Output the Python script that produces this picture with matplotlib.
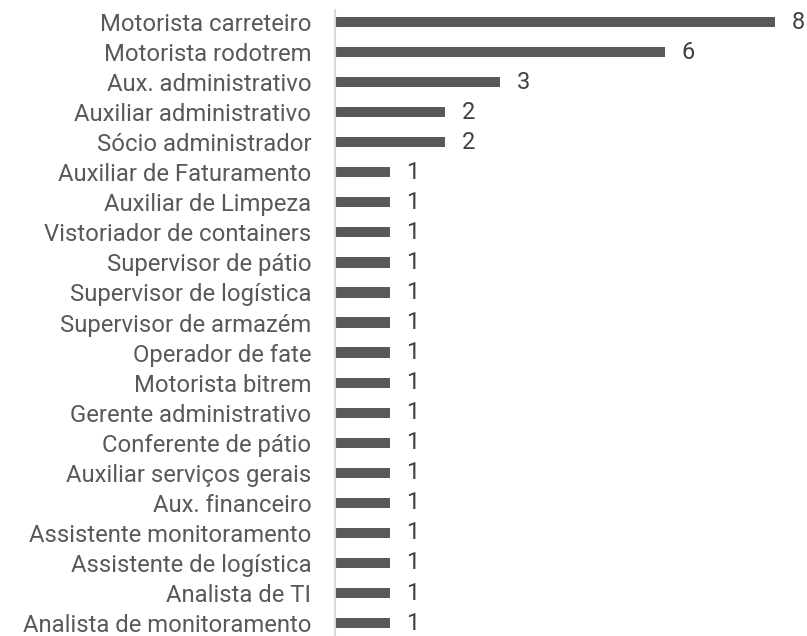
import matplotlib.pyplot as plt

plt.rcParams['font.family'] = ['Roboto', 'DejaVu Sans']

cargos = [
    "Motorista carreteiro", "Motorista rodotrem", "Aux. administrativo",
    "Auxiliar administrativo", "Sócio administrador", "Auxiliar de Faturamento",
    "Auxiliar de Limpeza", "Vistoriador de containers", "Supervisor de pátio",
    "Supervisor de logística", "Supervisor de armazém", "Operador de fate",
    "Motorista bitrem", "Gerente administrativo", "Conferente de pátio",
    "Auxiliar serviços gerais", "Aux. financeiro", "Assistente monitoramento",
    "Assistente de logística", "Analista de TI", "Analista de monitoramento",
]
quantidade = [8, 6, 3, 2, 2] + [1] * 16

W, H = 807, 636
fig = plt.figure(figsize=(W / 100, H / 100), dpi=100)
ax = fig.add_axes([335 / W, 0, (W - 335) / W, (H - 10) / H])

pos = list(range(len(cargos)))
ax.barh(pos, quantidade, height=0.34, color='#595959')
for p, q in zip(pos, quantidade):
    ax.text(q + 0.3, p, str(q), va='center', ha='left', fontsize=17, color='#404040')

ax.set_yticks(pos)
ax.set_yticklabels(cargos, fontsize=17.2, color='#595959')
ax.tick_params(axis='y', length=0, pad=17)
ax.set_xticks([])
ax.set_xlim(0, 8.58)
ax.set_ylim(len(cargos) - 0.57, -0.4)

for s in ['top', 'right', 'bottom']:
    ax.spines[s].set_visible(False)
ax.spines['left'].set_color('#d9d9d9')
ax.spines['left'].set_linewidth(1.5)

fig.savefig('out.png', dpi=100)
